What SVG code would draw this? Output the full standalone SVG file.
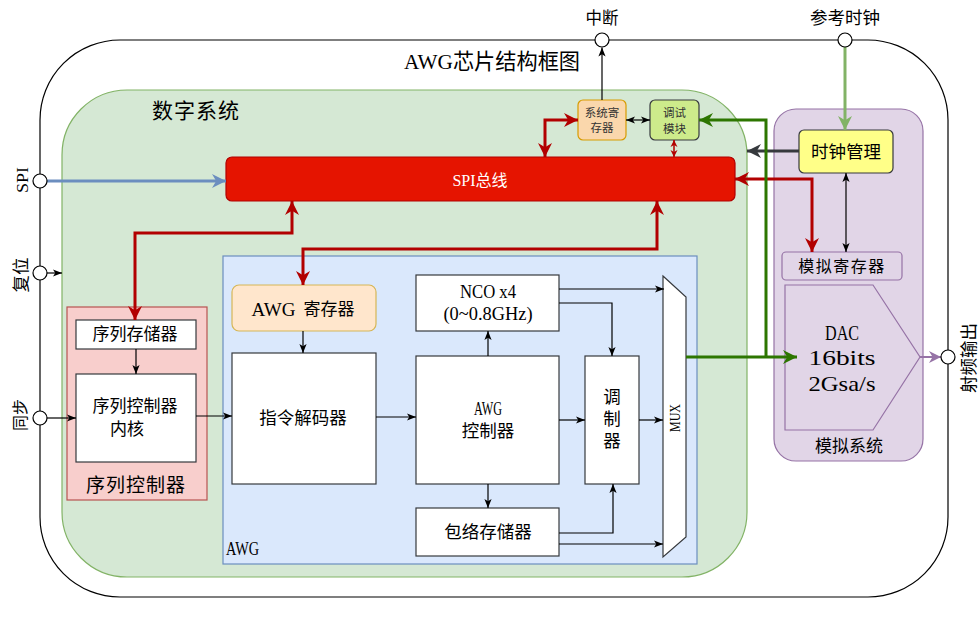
<svg xmlns="http://www.w3.org/2000/svg" width="980" height="621" viewBox="0 0 980 621">
<style>
.t{font-family:"Liberation Serif","Noto Sans CJK SC",serif;fill:#000;text-anchor:middle;dominant-baseline:central}
.box{fill:#fff;stroke:#36393d;stroke-width:1.2}
.thin{fill:none;stroke:#000;stroke-width:1.2}
.red{fill:none;stroke:#b20000;stroke-width:3}
.port{fill:#fff;stroke:#000;stroke-width:1.2}
</style>
<defs>
<marker id="ak" viewBox="0 0 10 10" refX="10" refY="5" markerWidth="9" markerHeight="9" markerUnits="userSpaceOnUse" orient="auto-start-reverse"><path d="M0,1 L10,5 L0,9 L2.5,5 Z" fill="#000"/></marker>
<marker id="ar" viewBox="0 0 10 10" refX="10" refY="5" markerWidth="14" markerHeight="15" markerUnits="userSpaceOnUse" orient="auto-start-reverse"><path d="M0,0 L10,5 L0,10 L3,5 Z" fill="#b20000"/></marker>
<marker id="ars" viewBox="0 0 10 10" refX="10" refY="5" markerWidth="7" markerHeight="8" markerUnits="userSpaceOnUse" orient="auto-start-reverse"><path d="M0,0 L10,5 L0,10 L3,5 Z" fill="#b20000"/></marker>
<marker id="ab" viewBox="0 0 10 10" refX="10" refY="5" markerWidth="14" markerHeight="14" markerUnits="userSpaceOnUse" orient="auto"><path d="M0,0 L10,5 L0,10 L3,5 Z" fill="#6c8ebf"/></marker>
<marker id="ag" viewBox="0 0 10 10" refX="10" refY="5" markerWidth="14" markerHeight="14" markerUnits="userSpaceOnUse" orient="auto"><path d="M0,0 L10,5 L0,10 L3,5 Z" fill="#82b366"/></marker>
<marker id="adg" viewBox="0 0 10 10" refX="10" refY="5" markerWidth="14" markerHeight="14" markerUnits="userSpaceOnUse" orient="auto"><path d="M0,0 L10,5 L0,10 L3,5 Z" fill="#2d7600"/></marker>
<marker id="agr" viewBox="0 0 10 10" refX="10" refY="5" markerWidth="14" markerHeight="14" markerUnits="userSpaceOnUse" orient="auto"><path d="M0,0 L10,5 L0,10 L3,5 Z" fill="#36393d"/></marker>
<marker id="ap" viewBox="0 0 10 10" refX="10" refY="5" markerWidth="12" markerHeight="12" markerUnits="userSpaceOnUse" orient="auto"><path d="M0,0 L10,5 L0,10 L3,5 Z" fill="#9673a6"/></marker>
</defs>

<g id="chip">
<rect x="40" y="40" width="908" height="557" rx="80" fill="#fff" stroke="#000" stroke-width="1.2"/>
<text class="t" x="492" y="62" font-size="21.5" textLength="176" lengthAdjust="spacingAndGlyphs">AWG芯片结构框图</text>
</g>

<g id="digital-system">
<rect x="62" y="90" width="685" height="487" rx="65" fill="#d5e8d4" stroke="#82b366" stroke-width="1.2"/>
<text class="t" x="196" y="111" font-size="21" letter-spacing="1">数字系统</text>
</g>

<g id="analog-system">
<rect x="774" y="109" width="149" height="352" rx="22" fill="#e1d5e7" stroke="#9673a6" stroke-width="1.2"/>
<text class="t" x="849" y="446" font-size="17">模拟系统</text>
</g>

<g id="awg">
<rect x="223" y="256" width="474" height="308" fill="#dae8fc" stroke="#6c8ebf" stroke-width="1.2"/>
<text class="t" x="226" y="548" font-size="19" style="text-anchor:start" textLength="33" lengthAdjust="spacingAndGlyphs">AWG</text>
</g>

<g id="seq-ctrl">
<rect x="67" y="307" width="140" height="193" fill="#f8cecc" stroke="#b85450" stroke-width="1.2"/>
<text class="t" x="136" y="485" font-size="19" letter-spacing="1">序列控制器</text>
</g>

<g id="spi-bus">
<rect x="226" y="157" width="509" height="44" rx="6" fill="#e51400" stroke="#b20000" stroke-width="1.2"/>
<text class="t" x="480" y="180" font-size="16" style="fill:#fff">SPI总线</text>
</g>

<g id="sys-reg">
<rect x="578" y="100" width="48" height="40" rx="5" fill="#fad7ac" stroke="#d79b00" stroke-width="1.2"/>
<text class="t" x="602" y="113" font-size="11.5" style="fill:#333">系统寄</text>
<text class="t" x="602" y="128" font-size="11.5" style="fill:#333">存器</text>
</g>

<g id="debug">
<rect x="650" y="100" width="49" height="40" rx="5" fill="#cdeb8b" stroke="#36393d" stroke-width="1.2"/>
<text class="t" x="674.5" y="113" font-size="11.5" style="fill:#333">调试</text>
<text class="t" x="674.5" y="129" font-size="11.5" style="fill:#333">模块</text>
</g>

<g id="clock-mgmt">
<rect x="799" y="130" width="94" height="43" rx="5" fill="#ffff88" stroke="#36393d" stroke-width="1.2"/>
<text class="t" x="846" y="152" font-size="17.5">时钟管理</text>
</g>

<g id="analog-reg">
<rect x="782" y="252" width="120" height="28" rx="4" fill="#e1d5e7" stroke="#9673a6" stroke-width="1.2"/>
<text class="t" x="842" y="266" font-size="16" letter-spacing="1.5">模拟寄存器</text>
</g>

<g id="dac">
<polygon points="785,285 873,285 920,357 873,430 785,430" fill="#e1d5e7" stroke="#9673a6" stroke-width="1.2"/>
<text class="t" x="842" y="333" font-size="21" textLength="34" lengthAdjust="spacingAndGlyphs">DAC</text>
<text class="t" x="842" y="358" font-size="21" textLength="67" lengthAdjust="spacingAndGlyphs">16bits</text>
<text class="t" x="842" y="384" font-size="21" textLength="67" lengthAdjust="spacingAndGlyphs">2Gsa/s</text>
</g>

<g id="seq-mem">
<rect x="76" y="320" width="120" height="29" class="box"/>
<text class="t" x="135" y="334" font-size="17">序列存储器</text>
</g>

<g id="seq-core">
<rect x="76" y="374" width="120" height="88" class="box"/>
<text class="t" x="135" y="406" font-size="17">序列控制器</text>
<text class="t" x="127" y="429" font-size="17">内核</text>
</g>

<g id="awg-reg">
<rect x="232" y="285" width="144" height="46" rx="7" fill="#ffe6cc" stroke="#d6b656" stroke-width="1.2"/>
<text class="t" x="303" y="309" font-size="17"><tspan font-size="19">AWG</tspan><tspan dx="8">寄存器</tspan></text>
</g>

<g id="decoder">
<rect x="232" y="353" width="144" height="131" class="box"/>
<text class="t" x="303" y="418" font-size="17.5">指令解码器</text>
</g>

<g id="nco">
<rect x="416" y="275" width="143" height="56" class="box"/>
<text class="t" x="488" y="292" font-size="18" textLength="56" lengthAdjust="spacingAndGlyphs">NCO x4</text>
<text class="t" x="488" y="314" font-size="18" textLength="89" lengthAdjust="spacingAndGlyphs">(0~0.8GHz)</text>
</g>

<g id="awg-ctrl">
<rect x="416" y="356" width="143" height="128" class="box"/>
<text class="t" x="488" y="408" font-size="19" textLength="28" lengthAdjust="spacingAndGlyphs">AWG</text>
<text class="t" x="488" y="431" font-size="17.5">控制器</text>
</g>

<g id="envelope">
<rect x="416" y="508" width="143" height="48" class="box"/>
<text class="t" x="488" y="532" font-size="17.5">包络存储器</text>
</g>

<g id="modulator">
<rect x="585" y="356" width="54" height="128" class="box"/>
<text class="t" x="612" y="397" font-size="17.5">调</text>
<text class="t" x="612" y="419" font-size="17.5">制</text>
<text class="t" x="612" y="441" font-size="17.5">器</text>
</g>

<g id="mux">
<polygon points="663,276 686,297 686,537 663,557" class="box"/>
<text class="t" x="675" y="418" font-size="15" transform="rotate(-90 675 418)" textLength="28" lengthAdjust="spacingAndGlyphs">MUX</text>
</g>

<g id="connectors">
<path class="thin" d="M602,100 V47.5" marker-end="url(#ak)"/>
<path class="thin" d="M626,120 H650" marker-start="url(#ak)" marker-end="url(#ak)"/>
<path class="thin" d="M846,173 V252" marker-start="url(#ak)" marker-end="url(#ak)"/>
<path class="thin" d="M47,273 H62" marker-end="url(#ak)"/>
<path class="thin" d="M47,418 H76" marker-end="url(#ak)"/>
<path class="thin" d="M136,349 V374" marker-end="url(#ak)"/>
<path class="thin" d="M196,416 H232" marker-end="url(#ak)"/>
<path class="thin" d="M303,331 V353" marker-end="url(#ak)"/>
<path class="thin" d="M376,417 H416" marker-end="url(#ak)"/>
<path class="thin" d="M488,356 V331" marker-end="url(#ak)"/>
<path class="thin" d="M488,484 V508" marker-end="url(#ak)"/>
<path class="thin" d="M559,420 H585" marker-end="url(#ak)"/>
<path class="thin" d="M559,289 H664" marker-end="url(#ak)"/>
<path class="thin" d="M559,303 H612 V356" marker-end="url(#ak)"/>
<path class="thin" d="M559,533 H613 V484" marker-end="url(#ak)"/>
<path class="thin" d="M559,544 H663" marker-end="url(#ak)"/>
<path class="thin" d="M639,420 H663" marker-end="url(#ak)"/>

<path d="M47,181 H226" fill="none" stroke="#6c8ebf" stroke-width="3" marker-end="url(#ab)"/>
<path d="M845,47 V130" fill="none" stroke="#82b366" stroke-width="3" marker-end="url(#ag)"/>
<path d="M799,151 H747" fill="none" stroke="#36393d" stroke-width="3" marker-end="url(#agr)"/>

<path class="red" d="M292,201 V233 H135 V320" marker-start="url(#ar)" marker-end="url(#ar)"/>
<path class="red" d="M657,201 V249 H303 V285" marker-start="url(#ar)" marker-end="url(#ar)"/>
<path class="red" d="M545,157 V120 H578" marker-start="url(#ar)" marker-end="url(#ar)"/>
<path class="red" d="M735,179 H812 V252" marker-start="url(#ar)" marker-end="url(#ar)"/>
<path d="M674,140 V157" fill="none" stroke="#b20000" stroke-width="1.5" marker-start="url(#ars)" marker-end="url(#ars)"/>

<path d="M686,357 H797" fill="none" stroke="#2d7600" stroke-width="3" marker-end="url(#adg)"/>
<path d="M766,357 V120 H699" fill="none" stroke="#2d7600" stroke-width="3" marker-end="url(#adg)"/>

<path d="M920,357 H941" fill="none" stroke="#9673a6" stroke-width="2" marker-end="url(#ap)"/>
</g>

<g id="port-interrupt">
<circle class="port" cx="602" cy="40" r="7"/>
<text class="t" x="602" y="18" font-size="16.5">中断</text>
</g>
<g id="port-refclk">
<circle class="port" cx="845" cy="40" r="7"/>
<text class="t" x="845" y="18" font-size="17.5">参考时钟</text>
</g>
<g id="port-spi">
<circle class="port" cx="40" cy="181" r="7"/>
<text class="t" x="22" y="180" font-size="17" transform="rotate(-90 22 180)" textLength="26" lengthAdjust="spacingAndGlyphs">SPI</text>
</g>
<g id="port-reset">
<circle class="port" cx="40" cy="273" r="7"/>
<text class="t" x="21" y="275" font-size="17.5" transform="rotate(-90 21 275)">复位</text>
</g>
<g id="port-sync">
<circle class="port" cx="40" cy="418" r="7"/>
<text class="t" x="20" y="415" font-size="16" transform="rotate(-90 20 415)">同步</text>
</g>
<g id="port-rfout">
<circle class="port" cx="948" cy="357" r="7"/>
<text class="t" x="969" y="358" font-size="17.5" transform="rotate(-90 969 358)">射频输出</text>
</g>
</svg>
